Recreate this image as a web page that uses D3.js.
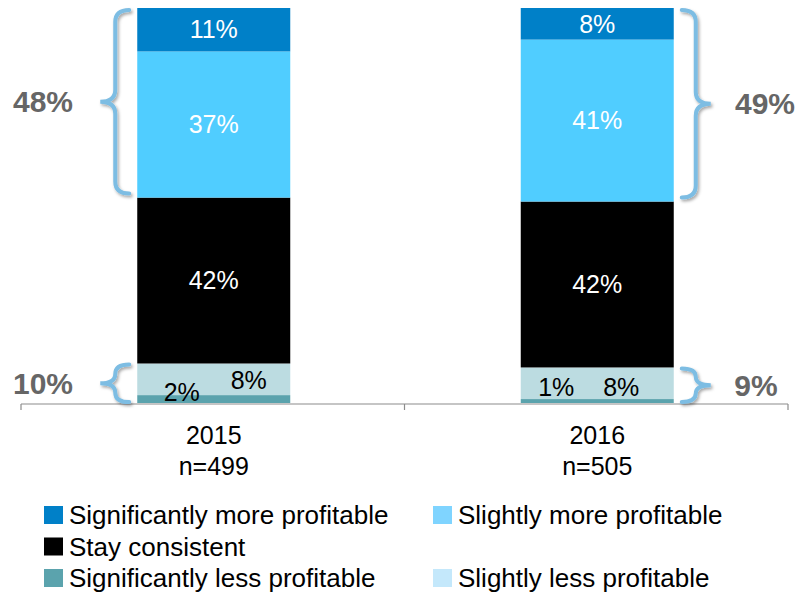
<!DOCTYPE html>
<html>
<head>
<meta charset="utf-8">
<script src="https://cdn.jsdelivr.net/npm/d3@7"></script>
<style>
  body { margin: 0; background: #fff; }
  svg { font-family: "Liberation Sans", Arial, sans-serif; }
</style>
</head>
<body>
<svg id="chart" width="798" height="593"></svg>
<script>
// data
var years = ["2015", "2016"];
var sampleSizes = ["n=499", "n=505"];
var sigLess = [2, 1];
var slightLess = [8, 8];
var stay = [42, 42];
var slightMore = [37, 41];
var sigMore = [11, 8];
var moreTotals = ["48%", "49%"];
var lessTotals = ["10%", "9%"];

var seriesNames = ["Significantly less profitable", "Slightly less profitable", "Stay consistent",
                   "Slightly more profitable", "Significantly more profitable"];
var seriesValues = [sigLess, slightLess, stay, slightMore, sigMore];
var barColors = ["#5ba3ad", "#bcdce1", "#000000", "#50cdff", "#0080c8"];
var legendColors = ["#5ba3ad", "#c4e8fb", "#000000", "#7fd4ff", "#0080c8"];
var labelColors = ["#000", "#000", "#fff", "#fff", "#fff"];

var svg = d3.select("#chart");

var x = d3.scaleBand().domain(years).range([21, 788]).padding(0);
var barW = 153;
var y = d3.scaleLinear().domain([0, 100]).range([403, 8]);

function cx(i) { return x(years[i]) + x.bandwidth() / 2 + 1; }

// stack the series per year
var stacked = years.map(function(yr, i) {
    var base = 0;
    return seriesValues.map(function(vals, s) {
        var seg = {year: i, s: s, v: vals[i], y0: base, y1: base + vals[i]};
        base += vals[i];
        return seg;
    });
});

var defs = svg.append("defs");
var f = defs.append("filter").attr("id", "shadow").attr("x", "-50%").attr("y", "-20%")
    .attr("width", "200%").attr("height", "140%");
f.append("feDropShadow").attr("dx", 1.5).attr("dy", 2).attr("stdDeviation", 1.5)
    .attr("flood-color", "#000").attr("flood-opacity", 0.35);

var bars = svg.append("g");
stacked.forEach(function(segs, i) {
    bars.selectAll(null)
        .data(segs)
        .enter().append("rect")
        .attr("x", cx(i) - barW / 2)
        .attr("width", barW)
        .attr("y", function(d) { return y(d.y1); })
        .attr("height", function(d) { return y(d.y0) - y(d.y1); })
        .attr("fill", function(d) { return barColors[d.s]; });
});

// axis line + ticks at band edges
var axisY = 404;
var axis = svg.append("g").attr("stroke", "#8c8c8c").attr("stroke-width", 1.2);
axis.append("line").attr("x1", x.range()[0]).attr("x2", x.range()[1])
    .attr("y1", axisY).attr("y2", axisY);
[x(years[0]), x(years[1]), x.range()[1]].forEach(function(tx) {
    axis.append("line").attr("x1", tx).attr("x2", tx).attr("y1", axisY).attr("y2", axisY + 6);
});

// segment labels
var small = [
    [{dx: -32, dy: 9}, {dx: 35, dy: -3}],
    [{dx: -41, dy: 2}, {dx: 24, dy: 2}]
];
stacked.forEach(function(segs, i) {
    segs.forEach(function(d) {
        var px = cx(i), py = y((d.y0 + d.y1) / 2);
        if (d.s < 2) {
            var top = y(segs[1].y1), bot = y(0);
            py = (top + bot) / 2 + small[i][d.s].dy;
            px = cx(i) + small[i][d.s].dx;
        }
        svg.append("text")
            .attr("x", px).attr("y", py).attr("dy", "0.35em")
            .attr("text-anchor", "middle")
            .attr("font-size", 25)
            .attr("fill", labelColors[d.s])
            .text(d.v + "%");
    });
});

// category labels
years.forEach(function(yr, i) {
    svg.append("text").attr("x", cx(i)).attr("y", 444).attr("text-anchor", "middle")
        .attr("font-size", 25).attr("fill", "#000").text(yr);
    svg.append("text").attr("x", cx(i)).attr("y", 475).attr("text-anchor", "middle")
        .attr("font-size", 25).attr("fill", "#000").text(sampleSizes[i]);
});

// curly braces
function brace(end, spine, tip, y0, y1) {
    var ym = (y0 + y1) / 2, r = Math.min(12, (y1 - y0) / 4);
    var p = d3.path();
    p.moveTo(end, y0);
    p.quadraticCurveTo(spine, y0, spine, y0 + r);
    p.lineTo(spine, ym - r);
    p.quadraticCurveTo(spine, ym, tip, ym);
    p.quadraticCurveTo(spine, ym, spine, ym + r);
    p.lineTo(spine, y1 - r);
    p.quadraticCurveTo(spine, y1, end, y1);
    return p.toString();
}

var braceG = svg.append("g").attr("fill", "none").attr("stroke", "#7dbde3")
    .attr("stroke-width", 4).attr("stroke-linecap", "round").attr("filter", "url(#shadow)");

stacked.forEach(function(segs, i) {
    var side = i === 0 ? -1 : 1;
    var edge = cx(i) + side * barW / 2;
    var end = edge + side * 8, spine = edge + side * 22, tip = edge + side * 37;
    var moreTop = y(segs[4].y1) + 2, moreBot = y(segs[3].y0) - 4;
    var lessTop = y(segs[1].y1) + 1, lessBot = y(0) - 1;
    braceG.append("path").attr("d", brace(end, spine, tip, moreTop, moreBot));
    braceG.append("path").attr("d", brace(end, spine, tip, lessTop, lessBot));

    var tx = i === 0 ? 43 : 765;
    svg.append("text").attr("x", tx).attr("y", (moreTop + moreBot) / 2).attr("dy", "0.35em")
        .attr("text-anchor", "middle").attr("font-size", 30).attr("font-weight", "bold")
        .attr("fill", "#666").text(moreTotals[i]);
    svg.append("text").attr("x", i === 0 ? 43 : 756).attr("y", (lessTop + lessBot) / 2).attr("dy", "0.35em")
        .attr("text-anchor", "middle").attr("font-size", 30).attr("font-weight", "bold")
        .attr("fill", "#666").text(lessTotals[i]);
});

// legend
var legendItems = [
    {s: 4, col: 0, row: 0}, {s: 3, col: 1, row: 0},
    {s: 2, col: 0, row: 1},
    {s: 0, col: 0, row: 2}, {s: 1, col: 1, row: 2}
];
var legend = svg.append("g");
legendItems.forEach(function(it) {
    var lx = it.col === 0 ? 44 : 433, ly = 515 + it.row * 31.5;
    legend.append("rect").attr("x", lx).attr("y", ly - 9).attr("width", 19).attr("height", 18)
        .attr("fill", legendColors[it.s]);
    legend.append("text").attr("x", lx + 25).attr("y", ly).attr("dy", "0.35em")
        .attr("font-size", 26).attr("fill", "#000").text(seriesNames[it.s]);
});
</script>
</body>
</html>
